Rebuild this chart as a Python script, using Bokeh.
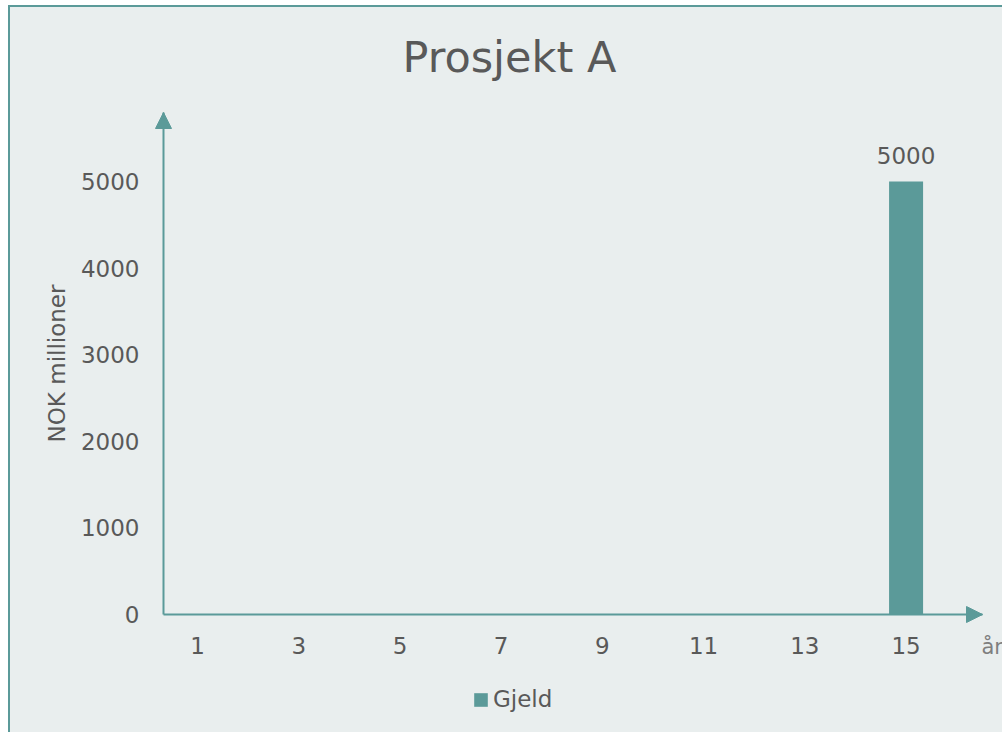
from bokeh.plotting import figure
from bokeh.models import (Range1d, FixedTicker, ColumnDataSource, LabelSet, Label,
                          Arrow, NormalHead, Legend, LegendItem)
from bokeh.core.properties import value
from bokeh.embed import file_html
from bokeh.resources import INLINE

# ---- data ----
years = [1, 2, 3, 4, 5, 6, 7, 8, 9, 10, 11, 12, 13, 14, 15]
gjeld = [0, 0, 0, 0, 0, 0, 0, 0, 0, 0, 0, 0, 0, 0, 5000]
x_ticks = [1, 3, 5, 7, 9, 11, 13, 15]
y_ticks = [0, 1000, 2000, 3000, 4000, 5000]
title_text = "Prosjekt A"
y_title = "NOK millioner"
x_title = "år"
series_name = "Gjeld"

# ---- style ----
BG = "#E9EEEE"
TEAL = "#5B9A99"
TXT = "#595959"
FONT = "DejaVu Sans"

# axis geometry (data units): axis start and arrow tips
X0, X1 = 0.328, 16.51
Y1 = 5797
# pixel layout of the plotting area (frame spans whole canvas below the title)
AX_W, AX_H = 819, 502          # pixel length of x-axis / y-axis
ux = (X1 - X0) / AX_W
uy = Y1 / AX_H
x_rng = Range1d(X0 - 153 * ux, X0 + 841 * ux)
y_rng = Range1d(-120 * uy, Y1 + 8 * uy)

labels = [str(v) if v != 0 else "" for v in gjeld]
src = ColumnDataSource(dict(x=years, y=gjeld, lab=labels))

p = figure(width=994, height=727, output_backend="svg", toolbar_location=None,
           x_range=x_rng, y_range=y_rng,
           min_border_left=0, min_border_right=0, min_border_top=97,
           min_border_bottom=0, title=title_text)
p.margin = (5, 0, 0, 8)
p.styles = {"border-left": "2px solid " + TEAL, "border-top": "2px solid " + TEAL,
            "background-color": BG}
p.background_fill_color = None
p.border_fill_color = None
p.outline_line_color = None
p.grid.visible = False

p.title.text_font = FONT
p.title.text_font_size = "43px"
p.title.text_font_style = "normal"
p.title.text_color = TXT
p.title.align = "left"
p.title.offset = 392
p.title.standoff = 45

r = p.vbar(x="x", top="y", width=0.672, source=src, fill_color=TEAL, line_color=None)

for ax in (p.xaxis[0], p.yaxis[0]):
    ax.axis_line_color = TEAL
    ax.axis_line_width = 2
    ax.major_tick_line_color = None
    ax.minor_tick_line_color = None
    ax.major_tick_out = 0
    ax.major_tick_in = 0
    ax.major_label_text_font = FONT
    ax.major_label_text_font_size = "23px"
    ax.major_label_text_color = TXT

p.xaxis.ticker = FixedTicker(ticks=x_ticks)
p.yaxis.ticker = FixedTicker(ticks=y_ticks)
p.xaxis.fixed_location = 0
p.yaxis.fixed_location = X0
p.xaxis.bounds = (X0, X1)
p.yaxis.bounds = (0, Y1)
p.xaxis.major_label_standoff = 22
p.yaxis.major_label_standoff = 24
p.yaxis.axis_label = y_title
p.yaxis.axis_label_text_font = FONT
p.yaxis.axis_label_text_font_size = "23px"
p.yaxis.axis_label_text_font_style = "normal"
p.yaxis.axis_label_text_color = TXT
p.yaxis.axis_label_standoff = 8

# arrow heads on the axes
p.add_layout(Arrow(end=NormalHead(size=16, fill_color=TEAL, line_color=TEAL, line_width=1),
                   x_start=X0, y_start=Y1 - 100, x_end=X0, y_end=Y1, line_alpha=0))
p.add_layout(Arrow(end=NormalHead(size=16, fill_color=TEAL, line_color=TEAL, line_width=1),
                   x_start=X1 - 0.2, y_start=0, x_end=X1, y_end=0, line_alpha=0))

# data label
p.add_layout(LabelSet(x="x", y="y", text="lab", source=src, text_align="center",
                      text_baseline="alphabetic", y_offset=18, text_font=value(FONT),
                      text_font_size=value("23px"), text_color=TXT))

# x axis title at the arrow end
p.add_layout(Label(x=X1, y=0, text=x_title, x_offset=-1, y_offset=-32,
                   text_align="left", text_baseline="alphabetic", text_font=FONT,
                   text_font_size="21px", text_color="#7F7F7F"))

legend = Legend(items=[LegendItem(label=series_name, renderers=[r])],
                location=(462, 22), orientation="horizontal",
                glyph_width=17, glyph_height=17, label_standoff=4,
                padding=0, margin=0, spacing=0,
                border_line_color=None, background_fill_alpha=0,
                label_text_font=FONT, label_text_font_size="23px",
                label_text_color=TXT)
p.add_layout(legend, "center")

open("out.html", "w").write(file_html(p, INLINE))
